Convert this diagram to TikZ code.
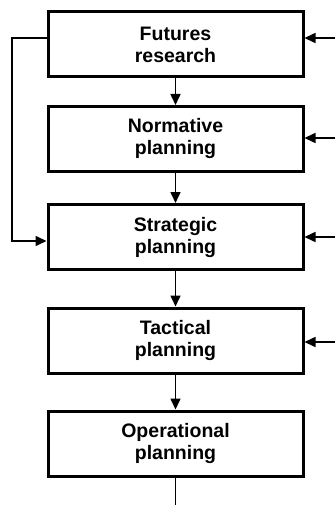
\documentclass[tikz,border=0pt]{standalone}
\usepackage{fontspec}
\setmainfont{Liberation Sans}
\usetikzlibrary{arrows.meta}
\begin{document}
\begin{tikzpicture}[x=1pt,y=-1pt,
  stage/.style={draw, line width=3pt, minimum width=255pt, minimum height=65pt,
    align=center, inner sep=0pt,
    font=\fontsize{19.5}{22}\selectfont\bfseries},
  flow/.style={line width=1.6pt, -{Triangle[length=11pt,width=10pt]}},
  plain/.style={line width=1.6pt}]
\useasboundingbox (0,0) rectangle (335,505);
% the planning hierarchy, top to bottom
\node[stage] (fut) at (175.5,44.5) {Futures\\research};
\node[stage] (nor) at (175.5,139) {Normative\\planning};
\node[stage] (str) at (175.5,237) {Strategic\\planning};
\node[stage] (tac) at (175.5,340.5) {Tactical\\planning};
\node[stage] (ope) at (175.5,443.5) {Operational\\planning};
% downward flow
\draw[flow] (fut) -- (nor);
\draw[flow] (nor) -- (str);
\draw[flow] (str) -- (tac);
\draw[flow] (tac) -- (ope);
\coordinate (out) at (175.5,505);
\draw[plain] (ope.south) -- (out);
% inputs entering from the right
\coordinate (r1) at (335,38);
\coordinate (r2) at (335,138);
\coordinate (r3) at (335,237);
\coordinate (r4) at (335,342);
\draw[flow] (r1) -- (fut.east |- r1);
\draw[flow] (r2) -- (nor.east |- r2);
\draw[flow] (r3) -- (str.east |- r3);
\draw[flow] (r4) -- (tac.east |- r4);
% bypass from futures research to strategic planning
\coordinate (l1) at (12,38);
\coordinate (l2) at (12,241);
\draw[flow] (fut.west |- l1) -- (l1) -- (l2) -- (str.west |- l2);
\end{tikzpicture}
\end{document}
